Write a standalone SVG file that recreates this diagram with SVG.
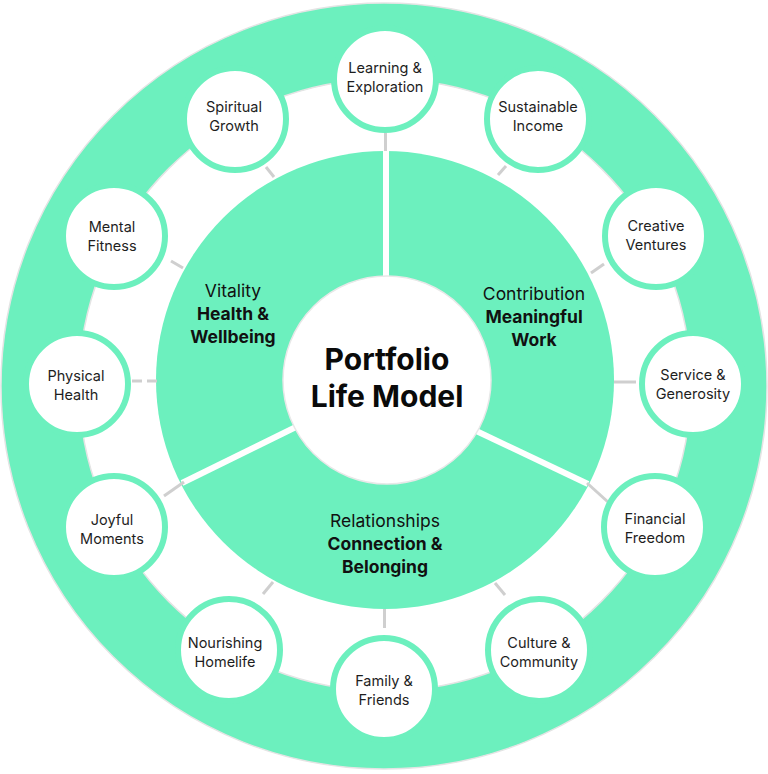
<svg xmlns="http://www.w3.org/2000/svg" width="768" height="774" viewBox="0 0 768 774">
  <style>
    .green { fill: #6cf0be; }
    .node circle { fill: #ffffff; stroke: #6cf0be; stroke-width: 6; }
    .node text { font-family: Inter, "Liberation Sans", sans-serif; font-size: 14.5px; fill: #1e1e1e; text-anchor: middle; }
    .sector text { font-family: Inter, "Liberation Sans", sans-serif; font-size: 17.5px; fill: #111111; text-anchor: middle; }
    .sector .b { font-weight: 700; }
    .conn { stroke: #cfcfcf; stroke-width: 3; fill: none; }
    .divider { stroke: #ffffff; stroke-width: 6; }
    .title { font-family: Inter, "Liberation Sans", sans-serif; font-size: 30px; font-weight: 700; fill: #0a0a0a; text-anchor: middle; }
  </style>
  <rect width="768" height="774" fill="#ffffff"/>
  <g id="background">
    <circle cx="384" cy="386" r="383" class="green" stroke="#e4e4e4" stroke-width="1.5"/>
    <circle cx="385" cy="385" r="306" fill="#ffffff" stroke="#e4e4e4" stroke-width="1.5"/>
    <circle cx="385" cy="380" r="229" class="green"/>
  </g>
  <g id="dividers">
    <line class="divider" x1="386" y1="150" x2="386" y2="280"/>
    <line class="divider" x1="470" y1="428" x2="588" y2="484"/>
    <line class="divider" x1="302" y1="424" x2="182" y2="483"/>
  </g>
  <g id="connectors">
    <line class="conn" x1="385.5" y1="133" x2="385.5" y2="151"/>
    <line class="conn" x1="498" y1="175" x2="506" y2="166"/>
    <line class="conn" x1="591" y1="273" x2="604" y2="264"/>
    <line class="conn" x1="614" y1="382" x2="636" y2="382"/>
    <line class="conn" x1="587" y1="483" x2="608" y2="502"/>
    <line class="conn" x1="495" y1="583" x2="505" y2="595"/>
    <line class="conn" x1="384.5" y1="609" x2="384.5" y2="628"/>
    <line class="conn" x1="263" y1="594" x2="273" y2="582"/>
    <line class="conn" x1="164" y1="496" x2="184" y2="482"/>
    <line class="conn" x1="132" y1="381" x2="157" y2="381" stroke-dasharray="10 5"/>
    <line class="conn" x1="171" y1="261" x2="183" y2="268"/>
    <line class="conn" x1="266" y1="167" x2="274" y2="177"/>
  </g>
  <g id="center">
    <circle cx="387" cy="380" r="104" fill="#ffffff" stroke="#e8e8e8" stroke-width="1.5"/>
    <text class="title" x="387" y="370">Portfolio</text>
    <text class="title" x="387" y="407">Life Model</text>
  </g>
  <g id="sector-vitality" class="sector">
    <text x="233" y="297">Vitality</text>
    <text class="b" x="233" y="320">Health &amp;</text>
    <text class="b" x="233" y="343">Wellbeing</text>
  </g>
  <g id="sector-contribution" class="sector">
    <text x="534" y="300">Contribution</text>
    <text class="b" x="534" y="323">Meaningful</text>
    <text class="b" x="534" y="346">Work</text>
  </g>
  <g id="sector-relationships" class="sector">
    <text x="385" y="527">Relationships</text>
    <text class="b" x="385" y="550">Connection &amp;</text>
    <text class="b" x="385" y="573">Belonging</text>
  </g>
  <g id="node-learning" class="node">
    <circle cx="385" cy="79" r="51"/>
    <text x="385" y="73">Learning &amp;</text>
    <text x="385" y="92">Exploration</text>
  </g>
  <g id="node-sustainable" class="node">
    <circle cx="538" cy="119" r="51"/>
    <text x="538" y="112">Sustainable</text>
    <text x="538" y="131">Income</text>
  </g>
  <g id="node-creative" class="node">
    <circle cx="656" cy="236" r="51"/>
    <text x="656" y="231">Creative</text>
    <text x="656" y="250">Ventures</text>
  </g>
  <g id="node-service" class="node">
    <circle cx="693" cy="384" r="51"/>
    <text x="693" y="380">Service &amp;</text>
    <text x="693" y="399">Generosity</text>
  </g>
  <g id="node-financial" class="node">
    <circle cx="655" cy="527" r="51"/>
    <text x="655" y="524">Financial</text>
    <text x="655" y="543">Freedom</text>
  </g>
  <g id="node-culture" class="node">
    <circle cx="539" cy="650" r="51"/>
    <text x="539" y="648">Culture &amp;</text>
    <text x="539" y="667">Community</text>
  </g>
  <g id="node-family" class="node">
    <circle cx="384" cy="689" r="51"/>
    <text x="384" y="686">Family &amp;</text>
    <text x="384" y="705">Friends</text>
  </g>
  <g id="node-nourishing" class="node">
    <circle cx="229" cy="650" r="51"/>
    <text x="225" y="648">Nourishing</text>
    <text x="225" y="667">Homelife</text>
  </g>
  <g id="node-joyful" class="node">
    <circle cx="114" cy="527" r="51"/>
    <text x="112" y="525">Joyful</text>
    <text x="112" y="544">Moments</text>
  </g>
  <g id="node-physical" class="node">
    <circle cx="77" cy="384" r="51"/>
    <text x="76" y="381">Physical</text>
    <text x="76" y="400">Health</text>
  </g>
  <g id="node-mental" class="node">
    <circle cx="114" cy="236" r="51"/>
    <text x="112" y="232">Mental</text>
    <text x="112" y="251">Fitness</text>
  </g>
  <g id="node-spiritual" class="node">
    <circle cx="235" cy="119" r="51"/>
    <text x="234" y="112">Spiritual</text>
    <text x="234" y="131">Growth</text>
  </g>
</svg>
